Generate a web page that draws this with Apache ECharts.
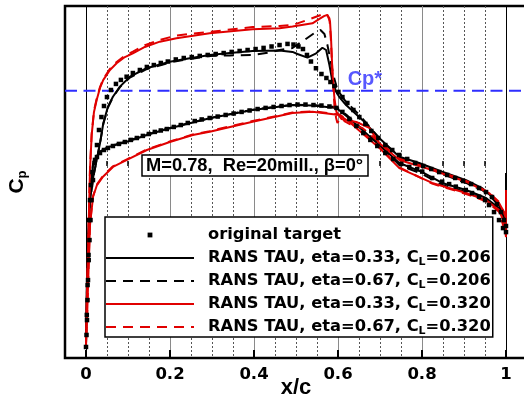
<!DOCTYPE html>
<html><head><meta charset="utf-8">
<script src="https://cdn.jsdelivr.net/npm/echarts@6/dist/echarts.min.js"></script>
<style>html,body{margin:0;padding:0;background:#fff}#c{width:524px;height:401px}</style>
</head><body><div id="c"></div>
<script>
// ---------- data ----------
const xMajorTicks = [0, 0.2, 0.4, 0.6, 0.8, 1.0];
const xMinorTicks = [0.05,0.1,0.15,0.25,0.3,0.35,0.45,0.5,0.55,0.65,0.7,0.75,0.85,0.9,0.95];
const cpStar = -0.47;
const cpStarLabelX = 0.664;

const seriesNames = [
  'original target',
  'RANS TAU, eta=0.33, CL=0.206',
  'RANS TAU, eta=0.67, CL=0.206',
  'RANS TAU, eta=0.33, CL=0.320',
  'RANS TAU, eta=0.67, CL=0.320'
];

// black solid: eta=0.33, CL=0.206
const tau33cl206Upper = [[0,1.119],[0.0007,0.963],[0.0024,0.713],[0.0048,0.463],[0.0095,0.213],[0.0173,0.067],[0.0254,-0.038],[0.0333,-0.142],[0.0412,-0.267],[0.0523,-0.371],[0.0641,-0.433],[0.0808,-0.496],[0.1045,-0.558],[0.1441,-0.611],[0.1995,-0.652],[0.247,-0.673],[0.2945,-0.694],[0.342,-0.706],[0.3967,-0.719],[0.4608,-0.722],[0.4917,-0.713],[0.5035,-0.7],[0.5273,-0.677],[0.548,-0.704],[0.5629,-0.739],[0.5717,-0.725],[0.5796,-0.631],[0.5867,-0.527],[0.5955,-0.464],[0.6033,-0.431],[0.6192,-0.381],[0.658,-0.288],[0.698,-0.175],[0.746,-0.058],[0.7933,-0.019],[0.848,0.036],[0.905,0.088],[0.943,0.138],[0.9667,0.192],[0.9834,0.244],[0.9952,0.294],[1.0,0.313]];
const tau33cl206Lower = [[0,1.119],[0.0012,0.9],[0.0036,0.65],[0.0071,0.338],[0.0119,0.119],[0.0166,-0.006],[0.0238,-0.056],[0.0333,-0.088],[0.057,-0.121],[0.0974,-0.152],[0.152,-0.2],[0.1995,-0.236],[0.2945,-0.298],[0.3967,-0.35],[0.4917,-0.381],[0.5392,-0.378],[0.5962,-0.363],[0.62,-0.313],[0.658,-0.225],[0.698,-0.131],[0.746,-0.019],[0.8005,0.038],[0.848,0.106],[0.905,0.15],[0.9525,0.2],[0.983,0.263],[0.995,0.319],[1.0,0.35]];
const tau33cl206Base = [[1.0,0.044]];

// black dashed: eta=0.67, CL=0.206
const tau67cl206Upper = [[0,1.119],[0.0007,0.963],[0.0024,0.72],[0.0048,0.47],[0.0095,0.22],[0.0173,0.07],[0.0254,-0.035],[0.0333,-0.14],[0.0412,-0.262],[0.0523,-0.366],[0.0641,-0.43],[0.0808,-0.493],[0.1045,-0.553],[0.1441,-0.605],[0.1995,-0.647],[0.247,-0.669],[0.2945,-0.688],[0.342,-0.691],[0.3967,-0.694],[0.437,-0.709],[0.4608,-0.725],[0.4917,-0.738],[0.5202,-0.788],[0.5439,-0.831],[0.5582,-0.85],[0.5677,-0.825],[0.5748,-0.756],[0.582,-0.663],[0.589,-0.569],[0.5986,-0.475],[0.6176,-0.406],[0.6508,-0.319],[0.698,-0.175],[0.746,-0.05],[0.8005,-0.006],[0.848,0.05],[0.905,0.106],[0.943,0.15],[0.9667,0.2],[0.9834,0.25],[1.0,0.325]];
const tau67cl206Lower = [[0,1.119],[0.0012,0.89],[0.0036,0.64],[0.0071,0.33],[0.0119,0.115],[0.0166,-0.01],[0.0238,-0.06],[0.0333,-0.09],[0.057,-0.124],[0.0974,-0.155],[0.152,-0.202],[0.1995,-0.238],[0.2945,-0.3],[0.3967,-0.352],[0.4917,-0.383],[0.5392,-0.381],[0.5962,-0.369],[0.62,-0.32],[0.658,-0.23],[0.698,-0.135],[0.746,-0.006],[0.8005,0.05],[0.848,0.119],[0.905,0.163],[0.9525,0.213],[0.983,0.275],[1.0,0.35]];

// red solid: eta=0.33, CL=0.320
const tau33cl320Upper = [[0,1.119],[0.0024,0.775],[0.006,0.4],[0.0095,0.025],[0.0135,-0.194],[0.019,-0.338],[0.0254,-0.413],[0.0333,-0.488],[0.0412,-0.538],[0.057,-0.6],[0.0729,-0.642],[0.0926,-0.681],[0.1116,-0.704],[0.1401,-0.744],[0.1758,-0.777],[0.2154,-0.798],[0.2945,-0.829],[0.3967,-0.854],[0.4608,-0.861],[0.4917,-0.872],[0.5392,-0.892],[0.5558,-0.919],[0.5677,-0.938],[0.5748,-0.944],[0.581,-0.902],[0.5834,-0.8],[0.5867,-0.588],[0.5914,-0.425],[0.5962,-0.338],[0.6081,-0.294],[0.6437,-0.275],[0.6746,-0.238],[0.698,-0.144],[0.746,-0.038],[0.8242,0.025],[0.905,0.098],[0.9596,0.169],[0.9834,0.231],[0.9952,0.288],[1.0,0.325]];
const tau33cl320Lower = [[0,1.119],[0.0024,0.963],[0.006,0.65],[0.0095,0.369],[0.0166,0.194],[0.0261,0.119],[0.0404,0.067],[0.0641,0.006],[0.0974,-0.038],[0.1449,-0.1],[0.1995,-0.15],[0.2542,-0.194],[0.2945,-0.214],[0.3967,-0.277],[0.4917,-0.331],[0.5392,-0.339],[0.6033,-0.319],[0.6271,-0.275],[0.6627,-0.194],[0.6983,-0.113],[0.746,0.013],[0.8242,0.106],[0.905,0.169],[0.9525,0.213],[0.9834,0.275],[0.9952,0.35],[1.0,0.444]];
const tau33cl320Base = [[1.0,0.15]];

// red dashed: eta=0.67, CL=0.320
const tau67cl320Upper = [[0,1.119],[0.0024,0.77],[0.006,0.39],[0.0095,0.015],[0.0135,-0.2],[0.019,-0.345],[0.0254,-0.42],[0.0333,-0.493],[0.0412,-0.545],[0.057,-0.607],[0.0729,-0.65],[0.0926,-0.69],[0.1116,-0.715],[0.1401,-0.755],[0.1758,-0.788],[0.2154,-0.816],[0.2945,-0.838],[0.3967,-0.869],[0.4608,-0.875],[0.4917,-0.881],[0.5273,-0.913],[0.5629,-0.948],[0.5717,-0.954],[0.5796,-0.923],[0.5831,-0.788],[0.5867,-0.588],[0.5914,-0.381],[0.5955,-0.3],[0.5986,-0.269],[0.6033,-0.288],[0.6104,-0.306],[0.6152,-0.281],[0.6271,-0.263],[0.658,-0.238],[0.698,-0.15],[0.746,-0.045],[0.8242,0.02],[0.905,0.093],[0.9596,0.165],[0.9834,0.225],[1.0,0.32]];
const tau67cl320Lower = [[0,1.119],[0.0024,0.96],[0.006,0.64],[0.0095,0.36],[0.0166,0.19],[0.0261,0.115],[0.0404,0.062],[0.0641,0.002],[0.0974,-0.042],[0.1449,-0.104],[0.1995,-0.153],[0.2542,-0.197],[0.2945,-0.218],[0.3967,-0.281],[0.4917,-0.334],[0.5392,-0.342],[0.6033,-0.322],[0.6271,-0.28],[0.6627,-0.2],[0.6983,-0.118],[0.746,0.008],[0.8242,0.11],[0.905,0.175],[0.9525,0.22],[0.9834,0.285],[1.0,0.43]];

// original target (squares)
const targetUpper = [[0,1.131],[0.0012,1.056],[0.0024,0.963],[0.0036,0.838],[0.0048,0.713],[0.0064,0.588],[0.0083,0.463],[0.0107,0.338],[0.0131,0.213],[0.0166,0.088],[0.0214,-0.038],[0.0261,-0.131],[0.0309,-0.225],[0.0368,-0.306],[0.0428,-0.375],[0.0499,-0.431],[0.0594,-0.475],[0.0713,-0.513],[0.0831,-0.538],[0.0967,-0.558],[0.1116,-0.581],[0.1283,-0.6],[0.1449,-0.619],[0.1615,-0.631],[0.1781,-0.644],[0.1948,-0.653],[0.2138,-0.666],[0.2328,-0.675],[0.2518,-0.681],[0.2708,-0.688],[0.2898,-0.694],[0.3088,-0.7],[0.3278,-0.706],[0.3468,-0.713],[0.3658,-0.719],[0.3848,-0.725],[0.4038,-0.731],[0.4228,-0.738],[0.4418,-0.747],[0.4608,-0.756],[0.4798,-0.763],[0.494,-0.759],[0.5059,-0.747],[0.5166,-0.731],[0.5261,-0.694],[0.5356,-0.653],[0.5475,-0.611],[0.5606,-0.575],[0.5724,-0.55],[0.582,-0.525],[0.5914,-0.5],[0.601,-0.463],[0.6105,-0.431],[0.6223,-0.394],[0.6366,-0.35],[0.6508,-0.306],[0.6651,-0.263],[0.6793,-0.219],[0.696,-0.175],[0.7126,-0.131],[0.7292,-0.1],[0.7458,-0.069],[0.7648,-0.044],[0.7838,-0.019],[0.8029,0],[0.8219,0.019],[0.8409,0.038],[0.8599,0.056],[0.8789,0.075],[0.8979,0.094],[0.9169,0.113],[0.9359,0.138],[0.9525,0.163],[0.9667,0.194],[0.9786,0.238],[0.9881,0.288],[0.9952,0.338],[1.0,0.375]];
const targetLower = [[0.0019,0.931],[0.0038,0.744],[0.006,0.556],[0.0071,0.338],[0.0095,0.213],[0.0119,0.119],[0.0154,0.038],[0.0202,-0.019],[0.0261,-0.056],[0.0333,-0.081],[0.0428,-0.1],[0.0523,-0.113],[0.0641,-0.125],[0.0784,-0.138],[0.0926,-0.15],[0.1069,-0.163],[0.1211,-0.175],[0.1354,-0.188],[0.1496,-0.2],[0.1639,-0.213],[0.1781,-0.222],[0.1924,-0.231],[0.209,-0.244],[0.2257,-0.256],[0.2423,-0.269],[0.2589,-0.281],[0.2755,-0.291],[0.2945,-0.3],[0.3135,-0.309],[0.3325,-0.319],[0.3515,-0.328],[0.3705,-0.338],[0.3895,-0.347],[0.4086,-0.356],[0.4276,-0.363],[0.4466,-0.369],[0.4656,-0.375],[0.4846,-0.381],[0.5036,-0.384],[0.5226,-0.384],[0.5416,-0.381],[0.5606,-0.378],[0.5796,-0.372],[0.5962,-0.363],[0.6105,-0.338],[0.6271,-0.294],[0.6437,-0.25],[0.6603,-0.206],[0.677,-0.163],[0.6936,-0.125],[0.7126,-0.081],[0.7316,-0.044],[0.7506,-0.013],[0.7696,0.006],[0.7886,0.019],[0.8005,0.035],[0.8242,0.075],[0.848,0.098],[0.8646,0.113],[0.8805,0.129],[0.9042,0.15],[0.9192,0.169],[0.9359,0.192],[0.9501,0.213],[0.9596,0.244],[0.9715,0.288],[0.9834,0.338],[0.9929,0.388],[1.0,0.413]];

// ---------- chart ----------
const loop = (upper, lower, base) => upper.slice().reverse().concat(lower.slice(1), base || []);

const RED = '#e00000', BLACK = '#000', BLUE = '#2e2eff';
const chart = echarts.init(document.getElementById('c'), null, {renderer: 'canvas'});

const lineSeries = (name, data, color, dashed) => ({
  type: 'line', name, data, symbol: 'none', showSymbol: false, z: 2,
  itemStyle: {color},
  lineStyle: {color, width: 2, type: dashed ? [10, 7] : 'solid'},
  animation: false, silent: true
});

chart.setOption({
  animation: false,
  title: {
    text: 'M=0.78,  Re=20mill., β=0°', left: 142, top: 155,
    padding: [1, 5, 0, 4], borderColor: '#000', borderWidth: 1.5, backgroundColor: '#fff',
    textStyle: {fontFamily: 'Liberation Sans', fontWeight: 'bold', fontSize: 18.3, color: '#000', lineHeight: 20}
  },
  grid: {left: 65, right: -3, top: 6, bottom: 43, show: true, borderColor: '#000', borderWidth: 2.5, outerBoundsMode: 'none', containLabel: false},
  legend: {
    data: [
      {name: seriesNames[0]},
      {name: seriesNames[1], itemStyle: {opacity: 0}},
      {name: seriesNames[2], itemStyle: {opacity: 0}},
      {name: seriesNames[3], itemStyle: {opacity: 0}},
      {name: seriesNames[4], itemStyle: {opacity: 0}}
    ],
    orient: 'vertical', left: 105, top: 217, itemWidth: 88, itemHeight: 6, itemGap: 3,
    padding: [8, 2, 0, 0], backgroundColor: '#fff', borderColor: '#000', borderWidth: 1.5,
    selectedMode: false,
    formatter: n => n.replace('CL', 'C{sub|L}'),
    textStyle: {
      fontFamily: 'DejaVu Sans', fontWeight: 'bold', fontSize: 16.3, color: '#000', lineHeight: 20, padding: [0, 0, 0, 9],
      rich: {sub: {fontFamily: 'DejaVu Sans', fontWeight: 'bold', fontSize: 11, color: '#000', lineHeight: 12, verticalAlign: 'bottom'}}
    }
  },
  xAxis: [{
    type: 'value', min: -0.05, max: 1.05, position: 'bottom',
    axisLine: {show: true, onZero: false, lineStyle: {color: '#000', width: 2}},
    axisTick: {show: true, inside: true, length: 8, customValues: xMajorTicks, lineStyle: {color: '#000', width: 2}},
    axisLabel: {customValues: xMajorTicks, margin: 8, fontFamily: 'DejaVu Sans', fontWeight: 'bold', fontSize: 16.5, color: '#000'},
    splitLine: {show: true, lineStyle: {color: ['#000', '#8a8a8a', '#8a8a8a', '#8a8a8a', '#8a8a8a', '#000'], width: 1}},
    name: 'x/c', nameLocation: 'middle', nameGap: 19, nameMoveOverlap: false,
    nameTextStyle: {fontFamily: 'Liberation Sans', fontWeight: 'bold', fontSize: 22, color: '#000'}
  }, {
    type: 'value', min: -0.05, max: 1.05, position: 'bottom', gridIndex: 0,
    axisLine: {show: false},
    axisTick: {show: true, inside: true, length: 5, customValues: xMinorTicks, lineStyle: {color: '#000', width: 1.5}},
    axisLabel: {show: false, customValues: xMinorTicks},
    splitLine: {show: true, lineStyle: {color: '#555', width: 1, type: [2, 2]}}
  }],
  yAxis: {
    type: 'value', min: -1.0, max: 1.2, inverse: true,
    axisLine: {show: false}, axisTick: {show: false}, axisLabel: {show: false}, splitLine: {show: false},
    name: 'C{sub|p}', nameLocation: 'middle', nameRotate: 90, nameGap: 36, nameMoveOverlap: false,
    nameTextStyle: {fontFamily: 'Liberation Sans', fontWeight: 'bold', fontSize: 21, color: '#000', lineHeight: 24,
      rich: {sub: {fontFamily: 'Liberation Sans', fontWeight: 'bold', fontSize: 13, color: '#000', lineHeight: 14, verticalAlign: 'bottom'}}}
  },
  series: [
    {type: 'line', name: 'Cp*', data: [[-0.05, cpStar], [1.05, cpStar]], symbol: 'none', z: 1, silent: true,
     lineStyle: {color: BLUE, width: 2, type: [12, 6.5]}},
    lineSeries(seriesNames[1], loop(tau33cl206Upper, tau33cl206Lower, tau33cl206Base), BLACK, false),
    lineSeries(seriesNames[2], loop(tau67cl206Upper, tau67cl206Lower), BLACK, true),
    lineSeries(seriesNames[3], loop(tau33cl320Upper, tau33cl320Lower, tau33cl320Base), RED, false),
    lineSeries(seriesNames[4], loop(tau67cl320Upper, tau67cl320Lower), RED, true),
    {type: 'line', name: seriesNames[0], data: targetUpper.concat(targetLower), z: 3,
     symbol: 'rect', symbolSize: 4.5, showSymbol: true, showAllSymbol: true, silent: true,
     itemStyle: {color: '#000'}, lineStyle: {color: '#000', opacity: 0, width: 1}},
    {type: 'scatter', name: 'Cp* label', data: [[cpStarLabelX, cpStar]], symbolSize: 0, z: 5, silent: true,
     label: {show: true, position: 'top', distance: 1, formatter: 'Cp*', color: BLUE,
             fontFamily: 'Liberation Sans', fontWeight: 'bold', fontSize: 20}}
  ]
});
</script></body></html>
